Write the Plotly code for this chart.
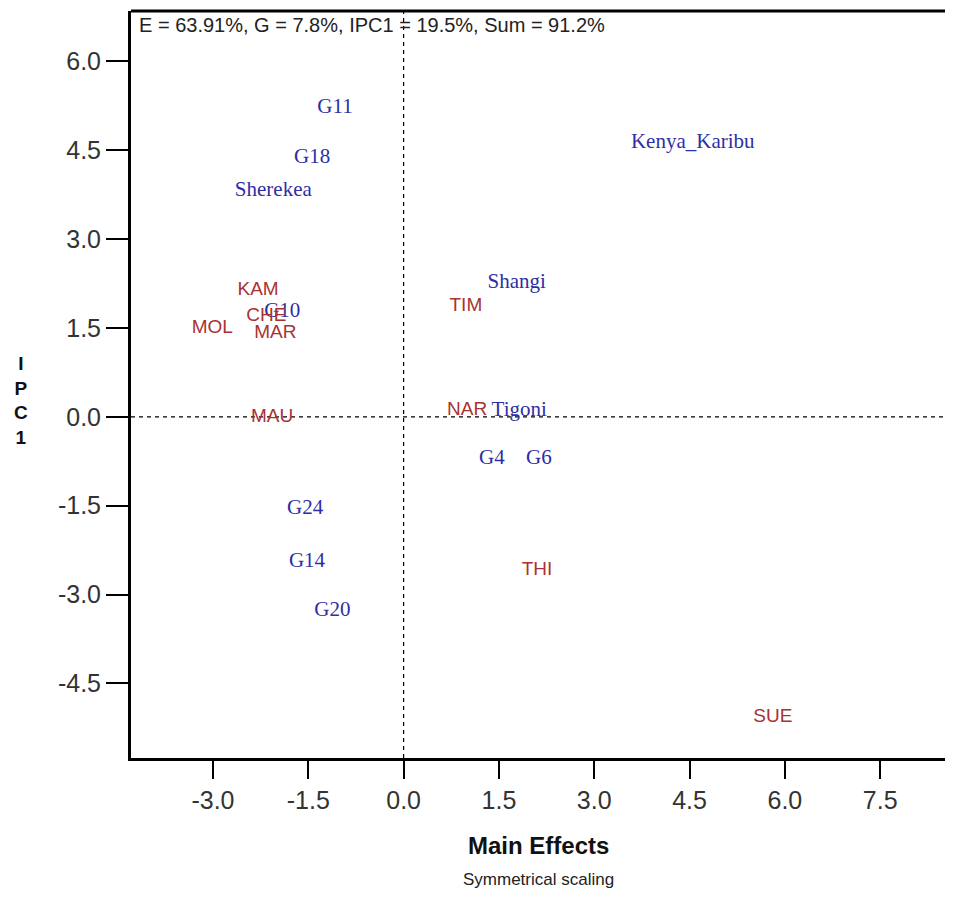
import plotly.graph_objects as go

# Genotypes (blue, serif)
gen_names = ["G11", "G18", "Sherekea", "Kenya_Karibu", "G10", "Shangi", "Tigoni",
             "G4", "G6", "G24", "G14", "G20"]
gen_x = [-1.08, -1.44, -2.05, 4.55, -1.91, 1.78, 1.82, 1.39, 2.13, -1.55, -1.52, -1.12]
gen_y = [5.21, 4.37, 3.81, 4.62, 1.77, 2.26, 0.11, -0.71, -0.71, -1.56, -2.44, -3.27]

# Environments (red, sans)
env_names = ["KAM", "CHE", "MOL", "MAR", "MAU", "TIM", "NAR", "THI", "SUE"]
env_x = [-2.29, -2.16, -3.01, -2.02, -2.07, 0.98, 1.00, 2.10, 5.81]
env_y = [2.14, 1.69, 1.50, 1.41, -0.01, 1.87, 0.11, -2.59, -5.08]

x_ticks = [-3.0, -1.5, 0.0, 1.5, 3.0, 4.5, 6.0, 7.5]
y_ticks = [-4.5, -3.0, -1.5, 0.0, 1.5, 3.0, 4.5, 6.0]
x_range = [-4.29, 8.52]
y_range = [-5.76, 6.85]

summary_text = "E = 63.91%, G = 7.8%, IPC1 = 19.5%, Sum = 91.2%"

fig = go.Figure()
fig.add_trace(go.Scatter(
    x=gen_x, y=gen_y, text=gen_names, mode="text", textposition="middle center",
    textfont=dict(family="Liberation Serif, Times New Roman, serif", size=21, color="#2e2ea6"),
    hoverinfo="skip", showlegend=False))
fig.add_trace(go.Scatter(
    x=env_x, y=env_y, text=env_names, mode="text", textposition="middle center",
    textfont=dict(family="Liberation Sans, Arial, sans-serif", size=19, color="#a93232"),
    hoverinfo="skip", showlegend=False))

# zero reference lines
fig.add_shape(type="line", xref="x", yref="paper", x0=0, x1=0, y0=0, y1=1,
              line=dict(color="black", width=1.2, dash="4px,4px"), layer="below")
fig.add_shape(type="line", xref="paper", yref="y", x0=0, x1=1, y0=0, y1=0,
              line=dict(color="black", width=1.2, dash="4px,4px"), layer="below")
# top frame line
fig.add_shape(type="line", xref="paper", yref="paper", x0=0, x1=1, y0=1, y1=1,
              line=dict(color="black", width=3))

tickfont = dict(family="Liberation Sans, Arial, sans-serif", size=25, color="#333333")

fig.update_xaxes(range=x_range, tickvals=x_ticks, ticktext=[f"{v:.1f}" for v in x_ticks],
                 showgrid=False, zeroline=False, showline=True, linecolor="black", linewidth=3,
                 ticks="outside", ticklen=18, tickwidth=1.5, tickcolor="black",
                 tickfont=tickfont, mirror=False)
fig.update_yaxes(range=y_range, tickvals=y_ticks, ticktext=[f"{v:.1f}" for v in y_ticks],
                 showgrid=False, zeroline=False, showline=True, linecolor="black", linewidth=3,
                 ticks="outside", ticklen=22, tickwidth=1.5, tickcolor="black",
                 tickfont=tickfont, mirror=False)

fig.add_annotation(text=summary_text, xref="paper", yref="paper", x=0.007, y=0.981,
                   xanchor="left", yanchor="middle", showarrow=False,
                   font=dict(family="Liberation Sans, Arial, sans-serif", size=20, color="#222222"))
fig.add_annotation(text="<b>Main Effects</b>", xref="paper", yref="paper", x=0.5, y=-0.117,
                   xanchor="center", yanchor="middle", showarrow=False,
                   font=dict(family="Liberation Sans, Arial, sans-serif", size=24, color="#111111"))
fig.add_annotation(text="Symmetrical scaling", xref="paper", yref="paper", x=0.5, y=-0.162,
                   xanchor="center", yanchor="middle", showarrow=False,
                   font=dict(family="Liberation Sans, Arial, sans-serif", size=17, color="#222222"))
fig.add_annotation(text="<b>I<br>P<br>C<br>1</b>", xref="paper", yref="paper", x=-0.135, y=0.478,
                   xanchor="center", yanchor="middle", showarrow=False,
                   font=dict(family="Liberation Sans, Arial, sans-serif", size=19, color="#111111"))

fig.update_layout(width=937, height=884, margin=dict(l=123, r=0, t=3, b=134),
                  plot_bgcolor="white", paper_bgcolor="white")

fig.write_html("out.html")
